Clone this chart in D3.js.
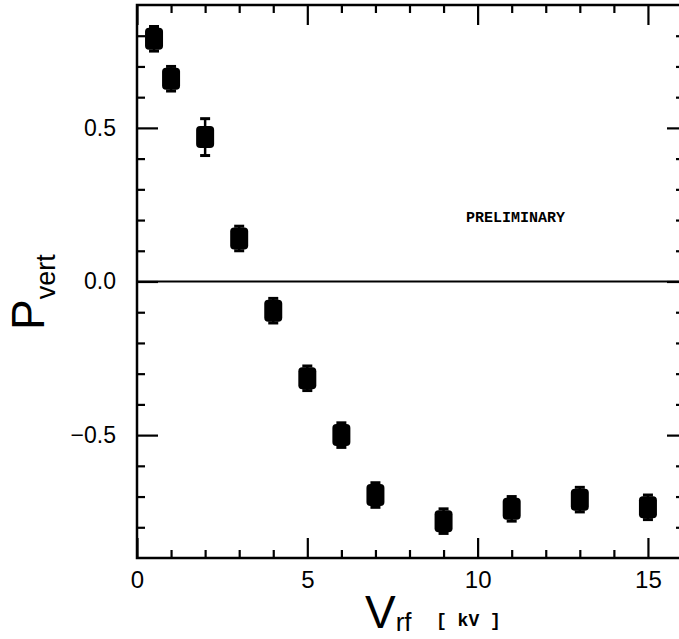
<!DOCTYPE html>
<html>
<head>
<meta charset="utf-8">
<script src="https://cdn.jsdelivr.net/npm/d3@7"></script>
<style>
  body { margin: 0; background: #fff; }
  svg { display: block; }
</style>
</head>
<body>
<svg id="chart" width="679" height="639"></svg>
<script>
// data
const vrf = [0.5, 1, 2, 3, 4, 5, 6, 7, 9, 11, 13, 15];
const pvert = [0.79, 0.66, 0.47, 0.14, -0.095, -0.315, -0.50, -0.695, -0.78, -0.74, -0.71, -0.735];
const perr = [0.04, 0.04, 0.06, 0.04, 0.04, 0.04, 0.04, 0.04, 0.04, 0.04, 0.04, 0.04];

const xMajor = [0, 5, 10, 15];
const xMinor = [1, 2, 3, 4, 6, 7, 8, 9, 11, 12, 13, 14];
const yMajor = [-0.5, 0, 0.5];
const yMinor = [-0.8, -0.7, -0.6, -0.4, -0.3, -0.2, -0.1, 0.1, 0.2, 0.3, 0.4, 0.6, 0.7, 0.8];

const svg = d3.select("#chart");

const x = d3.scaleLinear().domain([0, 16]).range([137, 682]);
const y = d3.scaleLinear().domain([-0.9, 0.9]).range([558, 5]);

const xL = x(0), xR = x(16), yT = y(0.9), yB = y(-0.9);

// ticks (all pointing inward, no domain lines - frame drawn separately)
function tickAxis(axis, tx, ty) {
  const g = svg.append("g").attr("transform", `translate(${tx},${ty})`).call(axis);
  g.select(".domain").remove();
  g.selectAll(".tick line").attr("stroke", "#000").attr("stroke-width", 2.2);
  return g;
}

// bottom
tickAxis(d3.axisBottom(x).tickValues(xMinor).tickSizeInner(-8).tickSizeOuter(0).tickFormat(""), 0, yB);
const bx = tickAxis(d3.axisBottom(x).tickValues(xMajor).tickSizeInner(-20).tickSizeOuter(0).tickPadding(13).tickFormat(d3.format("d")), 0, yB);
bx.selectAll("text")
  .attr("font-family", "Liberation Sans, Arial, sans-serif")
  .attr("font-size", 24)
  .attr("fill", "#000");

// top
tickAxis(d3.axisTop(x).tickValues(xMinor).tickSizeInner(-8).tickSizeOuter(0).tickFormat(""), 0, yT);
tickAxis(d3.axisTop(x).tickValues(xMajor).tickSizeInner(-20).tickSizeOuter(0).tickFormat(""), 0, yT);

// left
tickAxis(d3.axisLeft(y).tickValues(yMinor).tickSizeInner(-8).tickSizeOuter(0).tickFormat(""), xL, 0);
const ly = tickAxis(d3.axisLeft(y).tickValues(yMajor).tickSizeInner(-21).tickSizeOuter(0).tickPadding(21)
  .tickFormat(d => d === 0 ? "0.0" : d3.format(".1f")(d)), xL, 0);
ly.selectAll("text")
  .attr("font-family", "Liberation Sans, Arial, sans-serif")
  .attr("font-size", 23)
  .attr("fill", "#000");

// right
tickAxis(d3.axisRight(y).tickValues(yMinor).tickSizeInner(-6).tickSizeOuter(0).tickFormat(""), xR, 0);
tickAxis(d3.axisRight(y).tickValues(yMajor).tickSizeInner(-15).tickSizeOuter(0).tickFormat(""), xR, 0);

// frame
svg.append("rect")
  .attr("x", xL).attr("y", yT)
  .attr("width", xR - xL).attr("height", yB - yT)
  .attr("fill", "none")
  .attr("stroke", "#000")
  .attr("stroke-width", 2.5);

// zero line
svg.append("line")
  .attr("x1", xL).attr("x2", xR)
  .attr("y1", y(0)).attr("y2", y(0))
  .attr("stroke", "#000")
  .attr("stroke-width", 2.2);

// points
const pts = vrf.map((v, i) => ({ x: v, y: pvert[i], e: perr[i] }));
const pg = svg.append("g");

pg.selectAll("line.err")
  .data(pts)
  .join("line")
  .attr("class", "err")
  .attr("x1", d => x(d.x)).attr("x2", d => x(d.x))
  .attr("y1", d => y(d.y + d.e)).attr("y2", d => y(d.y - d.e))
  .attr("stroke", "#000")
  .attr("stroke-width", 2.5);

pg.selectAll("line.cap")
  .data(pts.flatMap(d => [d.y + d.e, d.y - d.e].map(v => ({ x: d.x, v }))))
  .join("line")
  .attr("class", "cap")
  .attr("x1", d => x(d.x) - 5).attr("x2", d => x(d.x) + 5)
  .attr("y1", d => y(d.v)).attr("y2", d => y(d.v))
  .attr("stroke", "#000")
  .attr("stroke-width", 3);

pg.selectAll("rect")
  .data(pts)
  .join("rect")
  .attr("x", d => x(d.x) - 9)
  .attr("y", d => y(d.y) - 11)
  .attr("width", 18)
  .attr("height", 22)
  .attr("rx", 4)
  .attr("fill", "#000");

// PRELIMINARY stamp
svg.append("text")
  .attr("x", 466).attr("y", 222)
  .attr("font-family", "Liberation Mono, Courier New, monospace")
  .attr("font-weight", "bold")
  .attr("font-size", 15)
  .attr("fill", "#000")
  .text("PRELIMINARY");

// y title: P_vert
const yt = svg.append("text")
  .attr("transform", "translate(44,330) rotate(-90)")
  .attr("font-family", "Liberation Sans, Arial, sans-serif")
  .attr("fill", "#000");
yt.append("tspan").attr("font-size", 46).text("P");
yt.append("tspan").attr("font-size", 27).attr("dy", 11).text("vert");

// x title: V_rf [kV]
const xt = svg.append("text")
  .attr("x", 365).attr("y", 628)
  .attr("font-family", "Liberation Sans, Arial, sans-serif")
  .attr("fill", "#000");
xt.append("tspan").attr("font-size", 46).text("V");
xt.append("tspan").attr("font-size", 26).attr("dy", 3).text("rf");

svg.append("text")
  .attr("x", 436).attr("y", 626)
  .attr("font-family", "Liberation Mono, Courier New, monospace")
  .attr("font-weight", "bold")
  .attr("font-size", 18)
  .attr("fill", "#000")
  .text("[ kV ]");
</script>
</body>
</html>
